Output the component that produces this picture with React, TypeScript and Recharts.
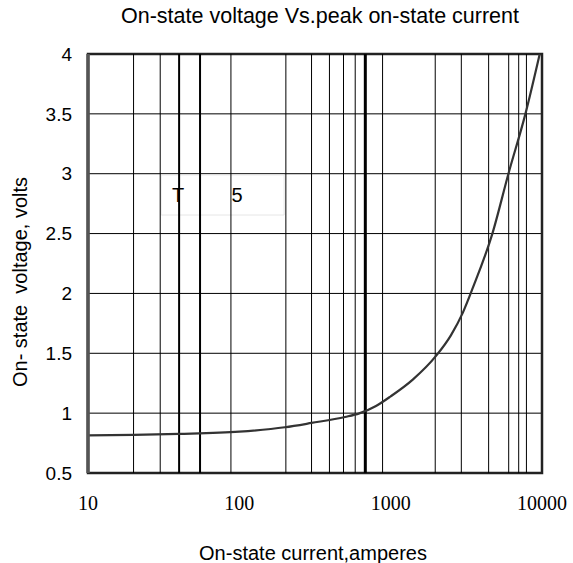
import React from 'react';
import {
  LineChart,
  Line,
  XAxis,
  YAxis,
  CartesianGrid,
  ReferenceLine,
  ReferenceArea,
  Label,
} from 'recharts';

// Peak on-state current (A) and the matching on-state voltage (V)
const currentAmps = [10, 20, 40, 100, 200, 300, 500, 620, 800, 1000, 1400, 2000, 2500, 3000, 3500, 4700, 6000, 7770, 9660];
const voltageVolts = [0.815, 0.818, 0.826, 0.845, 0.882, 0.918, 0.968, 0.998, 1.06, 1.14, 1.28, 1.48, 1.65, 1.84, 2.05, 2.5, 3.0, 3.5, 4.0];

const xTicks = [10, 100, 1000, 10000];
const yTicks = [0.5, 1, 1.5, 2, 2.5, 3, 3.5, 4];

// vertical log-grid lines
const gridCurrents = [20, 30, 40, 55, 88, 203, 300, 394, 488, 583, 680, 884, 1970, 2930, 4440, 6025, 7015, 7890];
const mediumCurrents = [40, 55];
const heavyCurrents = [680];

// device tag box
const tagLetters = ['T', '5'];

const data = currentAmps.map((a, i) => ({ amps: a, volts: voltageVolts[i] }));

const SANS = '"Liberation Sans", Arial, sans-serif';
const SERIF = '"Liberation Serif", "Times New Roman", serif';

const W = 573;
const H = 563;

function lineWidth(v: number) {
  if (heavyCurrents.includes(v)) return 3;
  if (mediumCurrents.includes(v)) return 2;
  return 1;
}

export default function App() {
  return (
    <div style={{ position: 'absolute', left: 0, top: 0, width: W, height: H, background: '#fff' }}>
      <div
        style={{
          position: 'absolute',
          left: 0,
          width: 640,
          top: 4,
          textAlign: 'center',
          fontFamily: SANS,
          fontSize: 21.5,
          lineHeight: '25px',
          color: '#000',
          whiteSpace: 'nowrap',
        }}
      >
        On-state voltage Vs.peak on-state current
      </div>
      <LineChart
        width={W}
        height={H}
        data={data}
        margin={{ top: 54, right: 31, left: 28, bottom: 50 }}
      >
        <CartesianGrid vertical={false} stroke="#000" strokeWidth={1} />
        {gridCurrents.map((v) => (
          <ReferenceLine key={v} x={v} stroke="#000" strokeWidth={lineWidth(v)} />
        ))}
        <XAxis
          dataKey="amps"
          type="number"
          scale="log"
          domain={[10, 10000]}
          ticks={xTicks}
          allowDataOverflow
          axisLine={false}
          tickLine={false}
          tickSize={12}
          tickMargin={11}
          height={40}
          tick={{ fontFamily: SERIF, fontSize: 20, fill: '#000' }}
        >
          <Label
            content={({ viewBox }: any) => (
              <text
                x={viewBox.x + viewBox.width / 2 - 2}
                y={560}
                textAnchor="middle"
                fontFamily={SANS}
                fontSize={20}
                fill="#000"
              >
                On-state current,amperes
              </text>
            )}
          />
        </XAxis>
        <YAxis
          type="number"
          domain={[0.5, 4]}
          ticks={yTicks}
          allowDataOverflow
          axisLine={false}
          tickLine={false}
          tickSize={8}
          tickMargin={8}
          width={60}
          tick={{ fontFamily: SANS, fontSize: 19, fill: '#000' }}
        >
          <Label
            content={() => (
              <text
                x={0}
                y={0}
                transform="translate(27 282) rotate(-90)"
                textAnchor="middle"
                fontFamily={SANS}
                fontSize={20}
                fill="#000"
                style={{ whiteSpace: 'pre' }}
              >
                On- state  voltage, volts
              </text>
            )}
          />
        </YAxis>
        <ReferenceArea
          x1={30.4}
          x2={197.7}
          y1={2.655}
          y2={2.99}
          fill="#fff"
          fillOpacity={1}
          stroke="#e6e6e6"
          strokeWidth={1}
          label={({ viewBox }: any) => (
            <g>
              <text
                x={viewBox.x + 17}
                y={viewBox.y + viewBox.height / 2 + 7}
                textAnchor="middle"
                fontFamily={SANS}
                fontSize={20}
                fill="#000"
              >
                {tagLetters[0]}
              </text>
              <text
                x={viewBox.x + 76}
                y={viewBox.y + viewBox.height / 2 + 7}
                textAnchor="middle"
                fontFamily={SANS}
                fontSize={20}
                fill="#000"
              >
                {tagLetters[1]}
              </text>
            </g>
          )}
        />
        <Line
          type="monotone"
          dataKey="volts"
          stroke="#333"
          strokeWidth={2.2}
          dot={false}
          isAnimationActive={false}
        />
        <ReferenceArea
          x1={10}
          x2={10000}
          y1={0.5}
          y2={4}
          fill="none"
          stroke="#222"
          strokeWidth={2.5}
        />
        <ReferenceLine x={10} stroke="#555" strokeWidth={3.5} />
      </LineChart>
    </div>
  );
}
